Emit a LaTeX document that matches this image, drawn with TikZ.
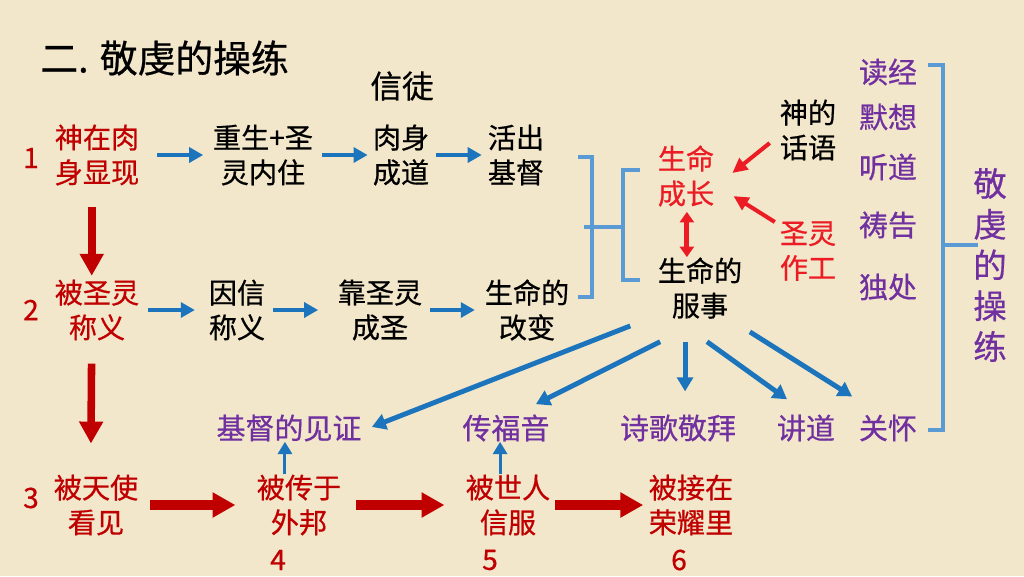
\documentclass[tikz,border=0pt]{standalone}
\usepackage{fontspec}
\setmainfont{Noto Sans CJK SC}[FakeBold=0.6]
\usetikzlibrary{arrows.meta}
\definecolor{bg}{RGB}{243,231,203}
\definecolor{dred}{RGB}{192,0,0}
\definecolor{bred}{RGB}{235,28,36}
\definecolor{purp}{RGB}{112,48,160}
\definecolor{ablue}{RGB}{28,117,188}
\definecolor{kblue}{RGB}{91,155,213}
\begin{document}
\begin{tikzpicture}[x=0.02cm,y=-0.02cm,
  txt/.style={inner sep=0pt, align=center, font=\fontsize{16}{19.8}\selectfont},
  redt/.style={txt, text=dred},
  bredt/.style={txt, text=bred},
  purt/.style={inner sep=0pt, text=purp, font=\fontsize{16.5}{20}\selectfont},
  barr/.style={draw=ablue, line width=2.5pt, -{Triangle[length=8pt,width=8.5pt]}},
  sbarr/.style={draw=ablue, line width=1.7pt, -{Triangle[length=7pt,width=8pt]}},
  lbarr/.style={draw=ablue, line width=2.8pt, -{Triangle[length=8pt,width=9pt]}},
  rvarr/.style={draw=dred, line width=4.3pt, -{Triangle[length=12.5pt,width=13pt]}},
  rharr/.style={draw=dred, line width=5.7pt, -{Triangle[length=13pt,width=13.6pt]}},
  brarr/.style={draw=bred, line width=2.3pt, -{Triangle[length=8.5pt,width=8pt]}},
  bracket/.style={draw=kblue, line width=2.8pt}
]
\fill[bg] (0,0) rectangle (1024,576);
\useasboundingbox (0,0) rectangle (1024,576);

% title
\node[inner sep=0pt, anchor=west, font=\fontsize{21.5}{26}\selectfont] (title) at (40,58) {二. 敬虔的操练};
\node[inner sep=0pt, font=\fontsize{18}{22}\selectfont] (xintu) at (402,86) {信徒};

% row 1
\node[redt] (n1) at (31,158) {1};
\node[redt] (a1) at (97,155) {神在肉\\身显现};
\node[txt] (b1) at (263,155) {重生+圣\\灵内住};
\node[txt] (c1) at (401,155) {肉身\\成道};
\node[txt] (d1) at (516,155) {活出\\基督};

% row 2
\node[redt] (n2) at (31,310) {2};
\node[redt] (a2) at (97,310) {被圣灵\\称义};
\node[txt] (b2) at (237,310) {因信\\称义};
\node[txt] (c2) at (380,310) {靠圣灵\\成圣};
\node[txt] (d2) at (527,310) {生命的\\改变};

% row 3
\node[redt] (n3) at (31,498) {3};
\node[redt] (a3) at (96,505) {被天使\\看见};
\node[redt] (a4) at (299,505) {被传于\\外邦};
\node[redt] (a5) at (508,505) {被世人\\信服};
\node[redt] (a6) at (691,505) {被接在\\荣耀里};
\node[redt] (n4) at (278,560) {4};
\node[redt] (n5) at (490,560) {5};
\node[redt] (n6) at (679,560) {6};

% centre
\node[bredt] (growth) at (686,176) {生命\\成长};
\node[txt] (word) at (808,130) {神的\\话语};
\node[bredt] (spirit) at (808,251) {圣灵\\作工};
\node[txt] (serve) at (700,288) {生命的\\服事};

% purple list
\node[purt] (p1) at (888,72) {读经};
\node[purt] (p2) at (888,117) {默想};
\node[purt] (p3) at (888,167) {听道};
\node[purt] (p4) at (888,225) {祷告};
\node[purt] (p5) at (888,287) {独处};
\node[inner sep=0pt, align=center, text=purp, font=\fontsize{19}{23.2}\selectfont] (piety) at (990,265) {敬\\虔\\的\\操\\练};

% bottom purple
\node[purt] (s1) at (289,428) {基督的见证};
\node[purt] (s2) at (506,428) {传福音};
\node[purt] (s3) at (678,428) {诗歌敬拜};
\node[purt] (s4) at (806,428) {讲道};
\node[purt] (s5) at (888,428) {关怀};

% row arrows
\draw[barr, shorten <=10pt, shorten >=5.4pt] (a1) -- (b1);
\draw[barr, shorten <=4.8pt, shorten >=2.8pt] (b1) -- (c1);
\draw[barr, shorten <=4pt, shorten >=3.3pt] (c1) -- (d1);
\draw[barr, shorten <=5pt, shorten >=7.8pt] (a2) -- (b2);
\draw[barr, shorten <=4.4pt, shorten >=11pt] (b2) -- (c2);
\draw[barr, shorten <=4pt, shorten >=5.5pt] (c2) -- (d2);

% red vertical
\draw[rvarr, shorten <=12pt, shorten >=2pt] ([xshift=-3pt]a1.south) -- ([xshift=-3pt]a2.north);
\draw[rvarr, shorten <=13pt, shorten >=17.5pt] ([xshift=-3pt]a2.south) -- ([xshift=-3pt]a3.north);

% red horizontal
\draw[rharr, shorten <=6.6pt, shorten >=12pt] (a3) -- (a4);
\draw[rharr, shorten <=8.3pt, shorten >=12pt] (a4) -- (a5);
\draw[rharr, shorten <=2.6pt, shorten >=3pt] (a5) -- (a6);

% small blue up arrows
\coordinate (u4) at ([xshift=-8pt]a4.north);
\coordinate (u5) at ([xshift=-4.5pt]a5.north);
\draw[sbarr] (u4) -- (u4 |- s1.south);
\draw[sbarr] (u5) -- (u5 |- s2.south);

% red arrows to growth
\draw[brarr] ([xshift=-5.6pt,yshift=-7.4pt]word.west) -- ([xshift=10.2pt,yshift=1.7pt]growth.east);
\draw[brarr] ([xshift=-2.7pt,yshift=-0.6pt]spirit.north west) -- ([xshift=10.8pt,yshift=6.2pt]growth.south east);
\coordinate (gs) at ([xshift=0.5pt]growth.south);
\draw[draw=bred, line width=2.8pt, {Triangle[length=6pt,width=8pt]}-{Triangle[length=6pt,width=8pt]}, shorten <=2.8pt] (gs) -- (gs |- serve.north);

% blue lines from serve
\draw[lbarr] ([xshift=-39.7pt,yshift=-4pt]serve.south) -- ([xshift=5.7pt,yshift=0.6pt]s1.east);
\draw[lbarr] ([xshift=-22.7pt,yshift=-13pt]serve.south) -- ([xshift=17pt,yshift=5.7pt]s2.north);
\coordinate (d3) at ([xshift=-8.5pt,yshift=-13pt]serve.south);
\draw[lbarr, shorten >=13pt] (d3) -- (d3 |- s3.north);
\draw[lbarr] ([xshift=4pt,yshift=-13pt]serve.south) -- ([xshift=-10.8pt,yshift=8.5pt]s4.north);
\draw[lbarr] ([xshift=28.4pt,yshift=-7.4pt]serve.south) -- ([xshift=-20.4pt,yshift=10.2pt]s5.north);

% brackets
\draw[bracket] (578,157) -- (592,157) -- (592,297) -- (578,297);
\draw[bracket] (584,227) -- (623,227);
\draw[bracket] (640,170) -- (623,170) -- (623,280) -- (640,280);
\draw[bracket] (928,65) -- (943,65) -- (943,430) -- (928,430);
\draw[bracket] (943,245) -- (978,245);
\end{tikzpicture}
\end{document}
